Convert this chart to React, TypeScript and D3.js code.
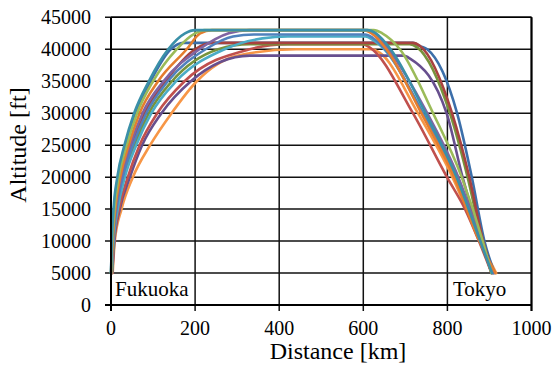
import React from "react";
import * as d3 from "d3";

type P = [number, number];

// [distance km, altitude ft]
const tealFast: P[] = [[0,5000],[2,10000],[6,15000],[15,20000],[32,25000],[55,30000],[90,35000],[136,40000],[176,42500],[200,43000],[610,43000],[630,42500],[665,40000],[748,30000],[822,20000],[878,10000],[906,5000]];
const green: P[] = [[0,5000],[3,10000],[8,15000],[18,20000],[37,25000],[62,30000],[100,35000],[156,40000],[200,42500],[222,43000],[625,43000],[645,42500],[687,40000],[766,30000],[834,20000],[884,10000],[905,5000]];
const orangeFast: P[] = [[1,5000],[4,10000],[10,15000],[22,20000],[42,25000],[68,30000],[112,35000],[180,40000],[212,42500],[240,43000],[600,43000],[620,42500],[655,40000],[738,30000],[816,20000],[876,10000],[914,5000]];
const purple: P[] = [[1,5000],[4,10000],[11,15000],[24,20000],[46,25000],[75,30000],[125,35000],[210,40000],[280,42500],[330,43000],[608,43000],[628,42500],[660,40000],[752,30000],[826,20000],[880,10000],[908,5000]];
const blue: P[] = [[1,5000],[5,10000],[13,15000],[28,20000],[52,25000],[84,30000],[135,35000],[225,40000],[290,42000],[340,42300],[605,42300],[622,41800],[652,40000],[742,30000],[820,20000],[878,10000],[910,5000]];
const tealLight: P[] = [[2,5000],[6,10000],[16,15000],[33,20000],[60,25000],[96,30000],[155,35000],[270,40000],[360,41700],[420,42000],[605,42000],[622,41500],[650,40000],[740,30000],[818,20000],[878,10000],[911,5000]];
const darkRed: P[] = [[1,5000],[5,10000],[12,15000],[26,20000],[49,25000],[80,30000],[130,35000],[200,40000],[240,41000],[718,41000],[735,40500],[811,30000],[852,20000],[885,10000],[908,5000]];
const olive: P[] = [[2,5000],[6,10000],[14,15000],[30,20000],[56,25000],[90,30000],[145,35000],[255,40000],[330,40800],[710,40800],[728,40300],[806,30000],[848,20000],[883,10000],[905,5000]];
const darkBlue: P[] = [[0,5000],[2,10000],[7,15000],[17,20000],[34,25000],[58,30000],[94,35000],[142,40000],[172,41000],[718,41000],[735,40500],[752,40000],[823,30000],[858,20000],[888,10000],[912,5000]];
const red: P[] = [[3,5000],[7,10000],[19,15000],[40,20000],[68,25000],[110,30000],[175,35000],[330,40000],[420,40800],[598,40800],[615,40300],[718,30000],[799,20000],[842,15000],[875,10000],[905,5000]];
const darkPurple: P[] = [[3,5000],[8,10000],[21,15000],[45,20000],[74,25000],[120,30000],[190,35000],[260,38000],[330,39000],[695,39000],[712,38500],[798,30000],[836,20000],[880,10000],[905,5000]];
const orange: P[] = [[4,5000],[9,10000],[25,15000],[52,20000],[93,25000],[144,30000],[204,35000],[300,39000],[440,40000],[622,40000],[638,39500],[730,30000],[812,20000],[878,10000],[916,5000]];

const seriesList: P[][] = [orange, darkPurple, red, darkBlue, olive, darkRed, tealLight, blue, purple, orangeFast, green, tealFast];
const seriesColors = ["#F79646", "#674F8E", "#C0504D", "#3C6FAA", "#77933C", "#A8423F", "#4BACC6", "#4F81BD", "#8064A2", "#E47D2E", "#9BBB59", "#3A90A8"];

const xTicks = [0, 200, 400, 600, 800, 1000];
const yTicks = [0, 5000, 10000, 15000, 20000, 25000, 30000, 35000, 40000, 45000];

const W = 553, H = 365;
const L = 111, R = 531.5, T = 17.3, B = 305;
const txt: React.CSSProperties = { fontFamily: "Times New Roman" };

export default function App() {
  const x = d3.scaleLinear().domain([0, 1000]).range([L, R]);
  const y = d3.scaleLinear().domain([0, 45000]).range([B, T]);
  const line = d3.line<P>().x(d => x(d[0])).y(d => y(d[1])).curve(d3.curveMonotoneX);

  return (
    <svg width={W} height={H} style={{ position: "absolute", left: 0, top: 0, background: "#fff" }}>
      <rect x={0} y={0} width={W} height={H} fill="#fff" />
      {yTicks.map(t => (
        <line key={"gy" + t} x1={L - 6} x2={R} y1={y(t)} y2={y(t)} stroke="#111" strokeWidth={1.5} />
      ))}
      {xTicks.map(t => (
        <line key={"gx" + t} x1={x(t)} x2={x(t)} y1={T} y2={B + 6} stroke="#111" strokeWidth={1.5} />
      ))}
      {seriesList.map((s, i) => (
        <path key={"s" + i} d={line(s) || ""} fill="none" stroke={seriesColors[i]} strokeWidth={2.6} strokeLinejoin="round" strokeLinecap="round" />
      ))}
      <line x1={L} x2={L} y1={T} y2={B + 6} stroke="#000" strokeWidth={2} />
      <line x1={L - 6} x2={R} y1={B} y2={B} stroke="#000" strokeWidth={2} />
      <line x1={R} x2={R} y1={T} y2={B + 6} stroke="#000" strokeWidth={2} />
      <line x1={L} x2={R} y1={T} y2={T} stroke="#000" strokeWidth={1.5} />
      {yTicks.map(t => (
        <text key={"ty" + t} style={txt} x={91} y={y(t)} dy="0.34em" textAnchor="end" fontSize={20} fill="#000">{t}</text>
      ))}
      {xTicks.map(t => (
        <text key={"tx" + t} style={txt} x={x(t)} y={335} textAnchor="middle" fontSize={20} fill="#000">{t}</text>
      ))}
      <text style={txt} x={338} y={359} textAnchor="middle" fontSize={24} fill="#000">Distance [km]</text>
      <text style={txt} transform="translate(26,145) rotate(-90)" textAnchor="middle" fontSize={24} fill="#000">Altitude [ft]</text>
      <text style={txt} x={115} y={296} fontSize={21} fill="#000">Fukuoka</text>
      <text style={txt} x={453} y={296} fontSize={21} fill="#000">Tokyo</text>
    </svg>
  );
}
